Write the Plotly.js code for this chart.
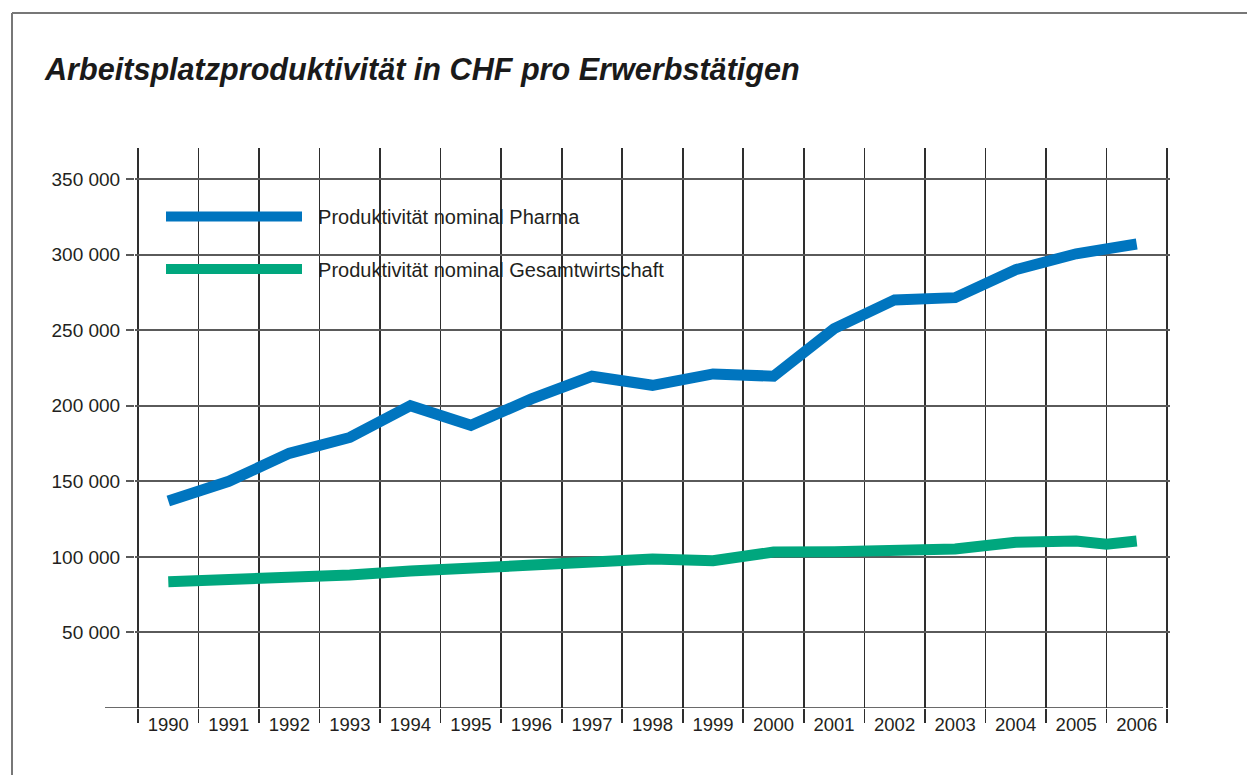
<!DOCTYPE html>
<html>
<head>
<meta charset="utf-8">
<script src="https://cdn.plot.ly/plotly-3.0.1.min.js"></script>
<style>html,body{margin:0;padding:0;background:#fff;}#chart{width:1247px;height:775px;}</style>
</head>
<body>
<div id="chart"></div>
<script>
// Data
var years = [1990,1991,1992,1993,1994,1995,1996,1997,1998,1999,2000,2001,2002,2003,2004,2005,2006];
var pharma = [137000,150000,168500,179000,200000,187000,204500,219500,213500,221000,219500,251000,270000,271500,290000,300500,307000];
var gesamtYears = [1990,1991,1992,1993,1994,1995,1996,1997,1998,1999,2000,2001,2002,2003,2004,2005,2005.5,2006];
var gesamt = [83500,84700,85800,88000,90600,93000,95000,96800,98500,97400,103200,103400,104000,105200,109600,110500,108300,110500];
var yTicks = [50000,100000,150000,200000,250000,300000,350000];
var yTickText = ['50 000','100 000','150 000','200 000','250 000','300 000','350 000'];
var yearLabels = years.map(String);
var boundaries = [];
for (var i = 0; i <= years.length; i++) boundaries.push(years[0] - 0.5 + i);

var seriesNames = ['\u00a0\u00a0Produktivität nominal Pharma', '\u00a0\u00a0Produktivität nominal Gesamtwirtschaft'];
var colors = ['#0075bf', '#00a77e'];

var traces = [
  {x: years, y: pharma, type: 'scatter', mode: 'lines', name: seriesNames[0],
   line: {color: colors[0], width: 11}, legendgroup: 'a'},
  {x: gesamtYears, y: gesamt, type: 'scatter', mode: 'lines', name: seriesNames[1],
   line: {color: colors[1], width: 11}, legendgroup: 'b'}
];

var W = 1247, H = 775, L = 135, R = 77, T = 148, B = 67;
var pw = W - L - R, ph = H - T - B;
var pad = 0.05;
function px(x) { return (x - L) / pw; }
function py(y) { return (H - B - y) / ph; }

var layout = {
  width: W, height: H,
  margin: {l: L, r: R, t: T, b: B, pad: 0},
  paper_bgcolor: '#ffffff', plot_bgcolor: '#ffffff',
  font: {family: 'Liberation Sans, Arial, sans-serif', color: '#231f20', size: 18},
  title: {
    text: 'Arbeitsplatzproduktivität in CHF pro Erwerbstätigen',
    xref: 'container', yref: 'container',
    x: 45 / W, xanchor: 'left', y: 1 - 69 / H, yanchor: 'middle',
    font: {family: 'Liberation Sans, Arial, sans-serif', size: 30.6, weight: 700, style: 'italic', color: '#1a1a1a'}
  },
  showlegend: true,
  legend: {
    x: px(161), y: py(197), xanchor: 'left', yanchor: 'top',
    bgcolor: 'rgba(0,0,0,0)', borderwidth: 0,
    itemwidth: 136, traceorder: 'grouped', tracegroupgap: 23.6,
    font: {family: 'Liberation Sans, Arial, sans-serif', size: 20, color: '#231f20'}
  },
  xaxis: {
    type: 'linear', range: [boundaries[0] - pad, boundaries[boundaries.length - 1] + pad],
    tickmode: 'array', tickvals: years, ticktext: yearLabels,
    ticks: '', showgrid: false, zeroline: false, showline: false,
    ticklabelstandoff: 3,
    tickfont: {family: 'Liberation Sans, Arial, sans-serif', size: 18.5, color: '#231f20'},
    minor: {tickmode: 'array', tickvals: boundaries, ticks: 'outside', ticklen: 14,
            tickwidth: 1.6, tickcolor: '#2e2e2e', showgrid: true, gridcolor: '#2e2e2e', gridwidth: 1.6},
    fixedrange: true
  },
  yaxis: {
    range: [0, 370500],
    tickmode: 'array', tickvals: yTicks, ticktext: yTickText,
    ticks: 'outside', ticklen: 8, tickwidth: 2, tickcolor: '#5a5a5a',
    showgrid: true, gridcolor: '#5a5a5a', gridwidth: 2,
    zeroline: false, showline: false,
    ticklabelstandoff: 2,
    tickfont: {family: 'Liberation Sans, Arial, sans-serif', size: 19, color: '#231f20'},
    fixedrange: true
  },
  shapes: [
    {type: 'line', xref: 'paper', yref: 'y', x0: px(105), x1: px(1163), y0: 0, y1: 0,
     line: {color: '#6a6a6a', width: 2}, layer: 'below'},
    {type: 'line', xref: 'paper', yref: 'paper', x0: px(12), x1: px(1247), y0: py(13), y1: py(13),
     line: {color: '#777777', width: 2}},
    {type: 'line', xref: 'paper', yref: 'paper', x0: px(12), x1: px(12), y0: py(13), y1: py(775),
     line: {color: '#777777', width: 2}}
  ]
};

Plotly.newPlot('chart', traces, layout, {displayModeBar: false, staticPlot: true});
</script>
</body>
</html>
